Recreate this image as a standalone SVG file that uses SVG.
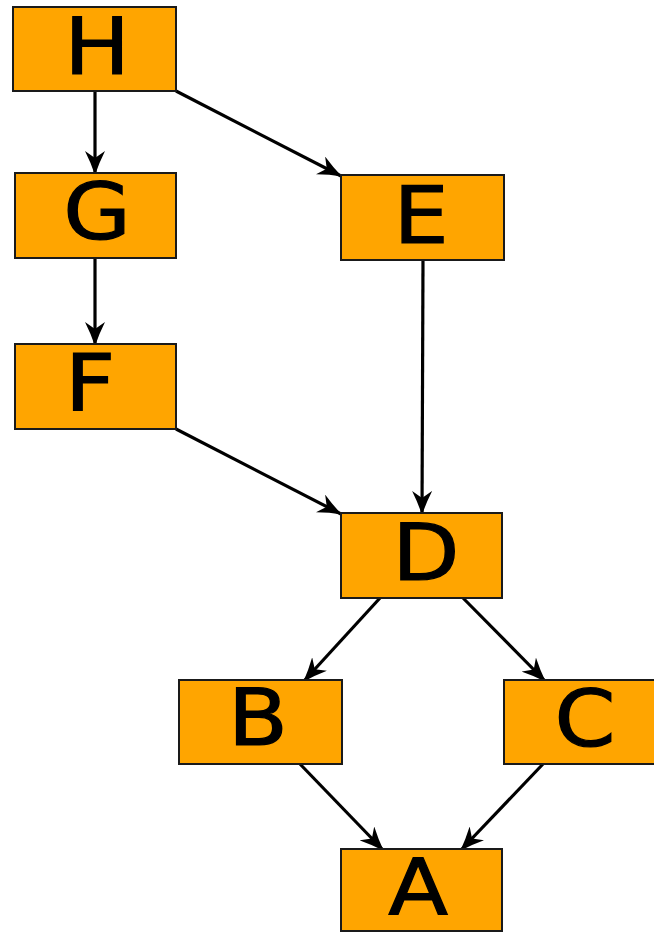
<svg xmlns="http://www.w3.org/2000/svg" width="654" height="932" viewBox="0 0 654 932">
<style>
.n rect{fill:#ffa500;stroke:#1a1a1a;stroke-width:2}
.n text{font-family:"DejaVu Sans",sans-serif;font-size:78px;fill:#000;stroke:#000;stroke-width:1.2;text-anchor:middle}
.e line{stroke:#000;stroke-width:3.2;marker-end:url(#ah)}
</style>
<defs>
<marker id="ah" viewBox="0 0 24 20" refX="23" refY="10" markerWidth="24" markerHeight="20" markerUnits="userSpaceOnUse" orient="auto">
<path d="M0,0 Q12,6 24,10 Q12,14 0,20 L7,10 Z" fill="#000"/>
</marker>
</defs>
<rect width="654" height="932" fill="#fff"/>
<g class="e">
<line x1="95" y1="91" x2="95" y2="174"/>
<line x1="176" y1="91" x2="341" y2="176"/>
<line x1="95" y1="258" x2="95" y2="345"/>
<line x1="423" y1="260" x2="422" y2="514"/>
<line x1="176" y1="429" x2="341" y2="514"/>
<line x1="380" y1="598" x2="304" y2="681"/>
<line x1="463" y1="598" x2="545" y2="681"/>
<line x1="300" y1="764" x2="383" y2="850"/>
<line x1="543" y1="764" x2="461" y2="850"/>
</g>
<g id="H" class="n"><rect x="13" y="7" width="163" height="84"/><text transform="translate(97,74) scale(1.12,1)">H</text></g>
<g id="G" class="n"><rect x="15" y="173" width="161" height="85"/><text transform="translate(97,239) scale(1.12,1)">G</text></g>
<g id="E" class="n"><rect x="341" y="175" width="163" height="85"/><text transform="translate(421,243) scale(1.12,1)">E</text></g>
<g id="F" class="n"><rect x="15" y="344" width="161" height="85"/><text transform="translate(90,410) scale(1.12,1)">F</text></g>
<g id="D" class="n"><rect x="341" y="513" width="161" height="85"/><text transform="translate(426,580) scale(1.12,1)">D</text></g>
<g id="B" class="n"><rect x="179" y="680" width="163" height="84"/><text transform="translate(258,745) scale(1.12,1)">B</text></g>
<g id="C" class="n"><rect x="504" y="680" width="161" height="84"/><text transform="translate(585,746) scale(1.12,1)">C</text></g>
<g id="A" class="n"><rect x="341" y="849" width="161" height="82"/><text transform="translate(418,915) scale(1.12,1)">A</text></g>
</svg>
